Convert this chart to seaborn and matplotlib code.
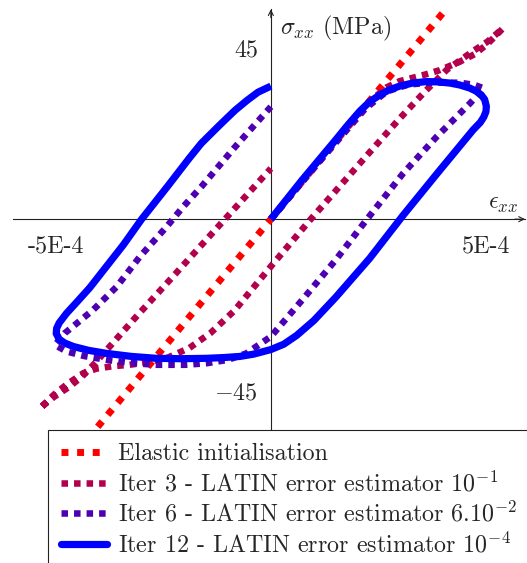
import matplotlib
matplotlib.use("Agg")
import matplotlib.pyplot as plt
import seaborn as sns
from matplotlib.lines import Line2D

# Strain in units of 1e-4, stress in MPa
elastic_strain = [-4.5, 4.5]
elastic_stress = [-60.75, 60.75]

iter3_strain = [0.0, 1.0, 2.0, 2.4, 2.7, 3.0, 3.55, 3.94, 4.4, 4.75, 5.05, 5.41,
                5.05, 4.7, 4.4, 4.1, 3.6, 3.0, 2.0, 0.93, 0.0,
                -0.85, -1.4, -1.9, -2.4, -2.9, -3.3, -3.7, -4.06, -4.37, -4.75, -5.05, -5.38,
                -5.05, -4.7, -4.4, -4.1, -3.21, -2.14, -1.07, 0.0]
iter3_stress = [0.0, 13.5, 27.0, 31.8, 34.6, 36.2, 37.8, 39.1, 41.3, 43.3, 46.0, 50.1,
                46.6, 44.0, 41.6, 39.2, 33.6, 26.4, 13.7, 0.0, -12.4,
                -24.0, -29.8, -33.8, -36.3, -37.6, -38.2, -38.6, -39.2, -40.4, -43.3, -46.0, -49.6,
                -46.6, -44.0, -41.3, -37.8, -26.5, -13.3, 0.0, 13.3]

iter6_strain = [0.0, 1.2, 2.2, 2.7, 3.2, 3.7, 4.4, 4.75, 4.96,
                4.64, 3.86, 3.08, 2.24, 1.51, 0.73, 0.0,
                -0.57, -1.0, -1.5, -2.0, -2.66, -3.3, -3.83, -4.35, -4.76, -5.03,
                -4.8, -4.14, -3.59, -3.05, -2.43, -2.04, -1.62, -0.83, 0.0]
iter6_stress = [0.0, 16.0, 29.0, 33.5, 35.3, 35.8, 35.8, 35.2, 34.3,
                30.4, 21.6, 12.0, 0.0, -10.7, -21.2, -30.8,
                -35.2, -36.9, -37.8, -38.2, -38.2, -37.7, -36.9, -35.9, -34.7, -33.0,
                -29.9, -23.8, -17.7, -9.8, -2.0, 3.3, 8.5, 19.0, 29.5]

iter12_strain = [0.0, 0.73, 1.51, 1.8, 2.07, 2.3, 2.54, 2.75, 3.0, 3.3, 3.63, 3.9, 4.17,
                 4.4, 4.63, 4.78, 4.9, 4.98, 5.02, 5.01, 4.96, 4.88, 4.71,
                 3.86, 3.08, 2.3, 1.51, 1.0, 0.6, 0.3, 0.0,
                 -0.4, -0.72, -1.1, -1.5, -2.1, -2.66, -3.25, -3.83, -4.25, -4.6, -4.8,
                 -4.93, -5.0, -4.99, -4.93, -4.76, -4.5,
                 -4.22, -3.44, -3.01, -2.4, -1.9, -1.62, -1.2, -0.83, -0.55, -0.3, 0.0]
iter12_stress = [0.0, 10.3, 20.8, 24.8, 28.3, 30.8, 32.6, 33.9, 34.9, 35.7, 36.1, 36.0, 35.7,
                 35.2, 34.4, 33.6, 32.6, 31.4, 29.6, 28.2, 26.8, 25.4, 23.4,
                 11.8, 1.0, -10.3, -20.5, -26.6, -30.5, -32.8, -34.2,
                 -35.4, -36.0, -36.3, -36.5, -36.6, -36.5, -36.0, -35.2, -34.4, -33.4, -32.5,
                 -31.5, -30.0, -28.6, -27.2, -24.7, -21.5,
                 -18.0, -6.8, 0.0, 8.7, 16.0, 19.9, 24.6, 28.6, 31.2, 33.3, 34.9]

labels = ["Elastic initialisation",
          r"Iter 3 - LATIN error estimator $10^{-1}$",
          r"Iter 6 - LATIN error estimator $6.10^{-2}$",
          r"Iter 12 - LATIN error estimator $10^{-4}$"]
colors = ["#FF0000", "#B3004D", "#4D00B3", "#0000FF"]

x_ticks = [-5, 5]
x_ticklabels = ["-5E-4", "5E-4"]
y_ticks = [-45, 45]
y_ticklabels = [r"$-45$", "45"]

sns.set_style("white")
plt.rcParams["font.family"] = ["cmr10", "DejaVu Serif"]
plt.rcParams["mathtext.fontset"] = "cm"
plt.rcParams["axes.unicode_minus"] = False
plt.rcParams["axes.formatter.use_mathtext"] = True

FS = 17.3
fig = plt.figure(figsize=(5.27, 5.63), dpi=100)
W, H = 527, 563
left_px, right_px, top_px, bot_px = 13.3, 525.0, 9.3, 430.0
ax = fig.add_axes([left_px / W, 1 - bot_px / H, (right_px - left_px) / W, (bot_px - top_px) / H])
ax.set_xlim(-6.0, 5.92)
ax.set_ylim(-55.3, 55.05)
ax.set_facecolor("white")

series = [
    (elastic_strain, elastic_stress, colors[0], 5.0, (1.0, 1.25)),
    (iter3_strain, iter3_stress, colors[1], 4.7, (1.0, 0.92)),
    (iter6_strain, iter6_stress, colors[2], 4.7, (1.0, 0.92)),
    (iter12_strain, iter12_stress, colors[3], 5.2, None),
]
handles = []
for xs, ys, c, lw, dash in series:
    sns.lineplot(x=xs, y=ys, sort=False, estimator=None, color=c, linewidth=lw, ax=ax)
    ln = ax.lines[-1]
    ln.set_zorder(3)
    if dash is not None:
        ln.set_dashes(dash)
        ln.set_dash_capstyle("butt")
        ln.set_dash_joinstyle("miter")
    else:
        ln.set_solid_joinstyle("round")
        ln.set_solid_capstyle("butt")
    h = Line2D([0], [0], color=c, linewidth=lw)
    if dash is not None:
        h.set_dashes(dash)
        h.set_dash_capstyle("butt")
    handles.append(h)

# axis lines crossing at the origin
for side in ["top", "right"]:
    ax.spines[side].set_visible(False)
ax.spines["left"].set_position(("data", 0))
ax.spines["bottom"].set_position(("data", 0))
for side in ["left", "bottom"]:
    ax.spines[side].set_color("#222222")
    ax.spines[side].set_linewidth(0.8)
    ax.spines[side].set_zorder(1)

ax.annotate("", xy=(1, 0), xycoords=("axes fraction", "data"),
            xytext=(0.98, 0), textcoords=("axes fraction", "data"),
            arrowprops=dict(arrowstyle="->", lw=0.8, color="#222222",
                            shrinkA=0, shrinkB=0, mutation_scale=9))
ax.annotate("", xy=(0, 1), xycoords=("data", "axes fraction"),
            xytext=(0, 0.98), textcoords=("data", "axes fraction"),
            arrowprops=dict(arrowstyle="->", lw=0.8, color="#222222",
                            shrinkA=0, shrinkB=0, mutation_scale=9))

ax.set_xticks(x_ticks)
ax.set_xticklabels(x_ticklabels)
ax.set_yticks(y_ticks)
ax.set_yticklabels(y_ticklabels)
ax.tick_params(axis="both", direction="inout", length=7.5, width=0.6,
               color="#555555", labelsize=FS)
ax.tick_params(axis="x", pad=8.0)
ax.tick_params(axis="y", pad=5.5)
ax.set_xlabel("")
ax.set_ylabel("")

ax.text(0.22, 48.5, r"$\sigma_{xx}$ (MPa)", fontsize=FS, ha="left", va="baseline")
ax.text(5.05, 2.7, r"$\epsilon_{xx}$", fontsize=FS, ha="left", va="baseline")

# legend box runs past the right edge of the canvas
leg = ax.legend(handles, labels, loc="upper left", mode="expand",
                bbox_to_anchor=(48 / W, 1 - 430 / H, 500 / W, 0), bbox_transform=fig.transFigure,
                borderaxespad=0, fontsize=FS, handlelength=1.9, handletextpad=0.45,
                borderpad=0.55, labelspacing=0.22, fancybox=False, framealpha=1,
                edgecolor="#222222")
leg.get_frame().set_linewidth(0.8)
leg.set_zorder(10)

fig.savefig("out.png", dpi=100, facecolor="white")
